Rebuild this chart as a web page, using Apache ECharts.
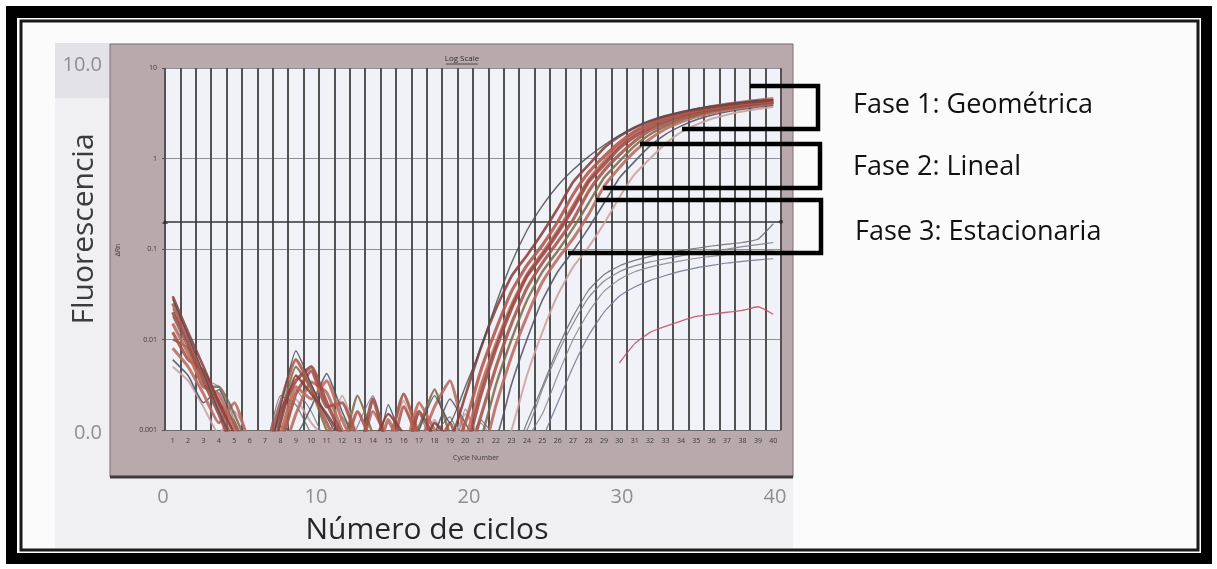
<!DOCTYPE html>
<html><head><meta charset="utf-8">
<script src="https://cdn.jsdelivr.net/npm/echarts@6/dist/echarts.min.js"></script>
<style>html,body{margin:0;padding:0;background:#fff}#c{width:1217px;height:569px}</style>
</head><body><div id="c"></div>
<script>
// ---------- data ----------
const cycles = ['1','2','3','4','5','6','7','8','9','10','11','12','13','14','15','16','17','18','19','20',
  '21','22','23','24','25','26','27','28','29','30','31','32','33','34','35','36','37','38','39','40'];
const outerXRange = [0, 40];
const outerYRange = [0, 10];
const logRange = [0.001, 10];
const threshold = 0.2;
const phaseLabels = ['Fase 1: Geométrica', 'Fase 2: Lineal', 'Fase 3: Estacionaria'];
const yAxisTitle = 'Fluorescencia';
const xAxisTitle = 'Número de ciclos';
const innerTitle = 'Log Scale';
const innerXName = 'Cycle Number';

const b1 = [0.03,0.012,0.005,0.002,0.0009,0.0004,0.0003,0.0012,0.004,0.0025, 0.0015,0.0008,0.0004,0.0007,0.0015,0.0009,0.0005,0.0012,0.0008,0.0024, 0.008,0.022,0.05,0.085,0.15,0.28,0.55,0.85,1.3,1.75, 2.2,2.6,2.95,3.25,3.5,3.7,3.9,4.1,4.25,4.4];
const b2 = [0.025,0.01,0.004,0.0018,0.0007,0.0003,0.0006,0.002,0.006,0.003, 0.0012,0.0006,0.0016,0.0007,0.0005,0.0018,0.0008,0.0004,0.0005,0.0012, 0.0045,0.013,0.034,0.066,0.11,0.2,0.4,0.7,1.05,1.5, 2.0,2.4,2.8,3.1,3.38,3.6,3.8,4.0,4.18,4.32];
const b3 = [0.02,0.009,0.0035,0.0015,0.0006,0.0003,0.0005,0.0016,0.0035,0.005, 0.002,0.0009,0.0005,0.0022,0.0006,0.0005,0.0016,0.0008,0.0004,0.0006, 0.0024,0.008,0.022,0.05,0.085,0.15,0.28,0.55,0.85,1.3, 1.75,2.2,2.6,2.95,3.25,3.5,3.7,3.9,4.1,4.25];
const b4 = [0.015,0.007,0.003,0.0025,0.001,0.0004,0.0004,0.0009,0.003,0.0022, 0.0035,0.0013,0.0006,0.0004,0.0013,0.0006,0.002,0.001,0.0005,0.0008, 0.003,0.009,0.024,0.052,0.09,0.16,0.3,0.58,0.92,1.4, 1.9,2.4,2.8,3.15,3.45,3.75,4.0,4.2,4.4,4.6];
const b5 = [0.012,0.006,0.0045,0.002,0.0012,0.0005,0.0003,0.0007,0.0025,0.0045, 0.0018,0.002,0.0008,0.0005,0.0007,0.0025,0.0009,0.0006,0.0012,0.0004, 0.0014,0.005,0.015,0.037,0.07,0.12,0.21,0.43,0.73,1.1, 1.55,2.04,2.44,2.82,3.13,3.4,3.62,3.82,4.02,4.18];
const b6 = [0.01,0.008,0.003,0.003,0.0015,0.0006,0.0003,0.0014,0.005,0.0028, 0.001,0.0007,0.0024,0.0009,0.0004,0.0006,0.0011,0.0028,0.0009,0.0005, 0.0008,0.0032,0.01,0.027,0.056,0.095,0.17,0.32,0.61,0.93, 1.38,1.85,2.28,2.68,3.0,3.3,3.54,3.74,3.94,4.12];
const b7 = [0.008,0.005,0.0025,0.0012,0.002,0.0007,0.0004,0.0005,0.0015,0.0034, 0.0026,0.001,0.0005,0.0016,0.0008,0.0005,0.0007,0.0018,0.0035,0.0009, 0.0005,0.0019,0.0065,0.018,0.043,0.078,0.13,0.24,0.49,0.79, 1.2,1.65,2.12,2.52,2.88,3.18,3.45,3.66,3.86,4.05];
const b8 = [0.006,0.004,0.002,0.0028,0.0011,0.0005,0.0003,0.0011,0.0009,0.0018, 0.0042,0.0016,0.0007,0.0004,0.0019,0.0007,0.0004,0.0009,0.0022,0.0012, 0.0006,0.0008,0.0032,0.01,0.027,0.056,0.095,0.17,0.32,0.61, 0.93,1.38,1.85,2.28,2.68,3.0,3.28,3.5,3.7,3.88];
const b9 = [0.005,0.0035,0.0018,0.0009,0.0016,0.0008,0.0003,0.0006,0.0022,0.0012, 0.0008,0.0024,0.0009,0.0005,0.0008,0.0021,0.0006,0.0013,0.0007,0.0015, 0.0008,0.0004,0.001,0.004,0.012,0.031,0.063,0.105,0.19,0.37, 0.67,1.0,1.46,1.95,2.36,2.75,3.05,3.3,3.52,3.7];
const d1 = [0.028,0.011,0.0042,0.0016,0.0007,0.0003,0.0004,0.0018,0.0075,0.0032, 0.0014,0.0007,0.0004,0.0009,0.0006,0.0004,0.001,0.0024,0.0012,0.003, 0.008,0.025,0.07,0.16,0.3,0.5,0.75,1.05,1.4,1.8, 2.2,2.6,2.95,3.25,3.55,3.8,4.0,4.2,4.4,4.5];
const g1 = [0.018,0.008,0.004,0.0022,0.0009,0.0004,0.0006,0.0024,0.0019,0.0009, 0.0005,0.0014,0.0007,0.0004,0.0012,0.0005,0.0004,0.0009,0.0014,0.0006, 0.0013,0.0008,0.0005,0.0012,0.003,0.008,0.018,0.035,0.052,0.065, 0.075,0.083,0.09,0.096,0.102,0.108,0.113,0.118,0.128,0.19];
const g2 = [0.022,0.009,0.0038,0.003,0.0013,0.0005,0.0004,0.0008,0.0028,0.0016, 0.0007,0.0004,0.0011,0.0024,0.0007,0.0004,0.0015,0.0006,0.0004,0.0017, 0.0007,0.0004,0.0009,0.001,0.0028,0.007,0.015,0.029,0.044,0.056, 0.065,0.072,0.078,0.084,0.09,0.095,0.1,0.106,0.112,0.118];
const g3 = [null,null,null,null,null,null,null,null,null,null, null,null,null,null,null,null,null,null,null,0.0006, 0.0012,0.0007,0.0005,0.0008,0.0015,0.004,0.01,0.02,0.034,0.046, 0.056,0.063,0.069,0.074,0.079,0.083,0.087,0.09,0.093,0.095];
const g4 = [null,null,null,null,null,null,null,null,null,null, null,null,null,null,null,null,null,null,null,null, 0.0004,0.0009,0.0005,0.0004,0.0008,0.002,0.005,0.011,0.02,0.03, 0.038,0.045,0.051,0.057,0.062,0.066,0.07,0.073,0.076,0.078];
const p1 = [null,null,null,null,null,null,null,null,null,null, null,null,null,null,null,null,null,null,null,null, null,null,null,null,null,null,null,null,null,0.0055, 0.009,0.012,0.014,0.016,0.018,0.019,0.02,0.021,0.023,0.019];

const curves = [
  {d: g1, c: '#6e6a72', w: 1.2}, {d: g2, c: '#7d7c88', w: 1.2}, {d: g3, c: '#8a8690', w: 1.2},
  {d: g4, c: '#6d7590', w: 1.2}, {d: p1, c: '#c0506a', w: 1.3},
  {d: b9, c: '#c9a2a0', w: 2}, {d: b8, c: '#4e5262', w: 1.6}, {d: b7, c: '#b86b62', w: 3},
  {d: b6, c: '#7d6a4a', w: 2.4}, {d: b5, c: '#a35548', w: 3.2}, {d: b4, c: '#c06a5a', w: 3.2},
  {d: b3, c: '#9c4a44', w: 3.4}, {d: b2, c: '#b0584c', w: 3.2}, {d: b1, c: '#8a3f3a', w: 2.6},
  {d: d1, c: '#4d4d55', w: 1.4}
];

// ---------- chart ----------
const chart = echarts.init(document.getElementById('c'), null, {renderer: 'canvas'});
const FONT = '"Open Sans", "Noto Sans", sans-serif';

const series = curves.map((cv, i) => ({
  type: 'line', xAxisIndex: 1, yAxisIndex: 1, data: cv.d,
  showSymbol: false, symbol: 'none', smooth: 0.15, clip: true, silent: true,
  lineStyle: {color: cv.c, width: cv.w, opacity: 0.88}, z: 5 + i,
  markLine: i === 0 ? {
    silent: true, symbol: ['triangle', 'circle'], symbolSize: [6, 4], symbolRotate: 0,
    label: {show: false},
    lineStyle: {color: '#333', width: 1.5, type: 'solid', opacity: 1},
    data: [{yAxis: threshold}]
  } : undefined
}));

const bracket = pts => ({type: 'polyline', z: 100, shape: {points: pts},
  style: {stroke: '#000', lineWidth: 4.5, fill: null, lineJoin: 'miter'}});
const txt = (x, y, text, size, color, extra) => Object.assign({type: 'text', x, y, z: 100,
  style: {text, fill: color, font: size + 'px ' + FONT, textAlign: 'center', textVerticalAlign: 'middle'}}, extra || {});
const phase = (x, y, text) => ({type: 'text', x, y, z: 100,
  style: {text, fill: '#111', font: '27px ' + FONT, textAlign: 'left', textVerticalAlign: 'middle'}});

chart.setOption({
  animation: false,
  backgroundColor: '#ffffff',
  grid: [
    {left: 163, top: 65, width: 612, height: 368, show: false},
    {left: 165, top: 68, width: 616, height: 362, show: true, backgroundColor: '#f1f2f7', borderWidth: 0, z: 1}
  ],
  xAxis: [
    {type: 'value', gridIndex: 0, min: outerXRange[0], max: outerXRange[1], interval: 10,
     axisLine: {show: false}, axisTick: {show: false}, splitLine: {show: false},
     axisLabel: {color: '#8e8e8e', fontSize: 20, margin: 54, fontFamily: FONT}},
    {type: 'category', gridIndex: 1, data: cycles, boundaryGap: true, z: 3,
     axisLine: {show: true, lineStyle: {color: '#6a6a6a', width: 1}}, axisTick: {show: false},
     axisLabel: {color: '#3a3a3a', fontSize: 7, margin: 7, interval: 0, fontFamily: FONT},
     splitLine: {show: true, interval: 0, lineStyle: {color: '#535353', width: 2}}}
  ],
  yAxis: [
    {type: 'value', gridIndex: 0, min: outerYRange[0], max: outerYRange[1], interval: 10,
     axisLine: {show: false}, axisTick: {show: false}, splitLine: {show: false},
     axisLabel: {color: '#8e8e8e', fontSize: 20, margin: 61, fontFamily: FONT, formatter: v => v.toFixed(1)}},
    {type: 'log', gridIndex: 1, logBase: 10, min: logRange[0], max: logRange[1], z: 3,
     axisLine: {show: false}, axisTick: {show: true, length: 3, lineStyle: {color: '#555'}},
     axisLabel: {color: '#3a3a3a', fontSize: 7, margin: 8, fontFamily: FONT,
       formatter: v => String(+v.toPrecision(3))},
     splitLine: {show: true, lineStyle: {color: '#8d929a', width: 1}}}
  ],
  series: series,
  graphic: [
    // outer frame
    {type: 'rect', z: -100, shape: {x: 6, y: 6, width: 1206, height: 558}, style: {fill: '#000'}},
    {type: 'rect', z: -99, shape: {x: 17, y: 18, width: 1184, height: 535}, style: {fill: '#fff'}},
    {type: 'rect', z: -98, shape: {x: 21, y: 21, width: 1177, height: 529}, style: {fill: '#fbfbfc', stroke: '#1a1a1a', lineWidth: 3}},
    {type: 'rect', z: -97, shape: {x: 55, y: 43, width: 738, height: 505}, style: {fill: '#f0f0f3'}},
    {type: 'rect', z: -96, shape: {x: 55, y: 43, width: 55, height: 55}, style: {fill: '#e3e3e7'}},
    // scanned plot panel
    {type: 'rect', z: -90, shape: {x: 110, y: 44, width: 683, height: 433}, style: {fill: '#b9a9ad', stroke: '#7a7175', lineWidth: 1}},
    {type: 'line', z: -89, shape: {x1: 110, y1: 477, x2: 793, y2: 477}, style: {stroke: '#3e3a3c', lineWidth: 3}},
    txt(462, 59, innerTitle, 8, '#2e2e2e', {}),
    {type: 'line', z: 100, shape: {x1: 446, y1: 64, x2: 478, y2: 64}, style: {stroke: '#2e2e2e', lineWidth: 0.8}},
    txt(476, 458, innerXName, 7, '#3a3a3a', {}),
    txt(118, 250, 'ΔRn', 7, '#3a3a3a', {rotation: Math.PI / 2}),
    // axis titles
    txt(84, 229, yAxisTitle, 30, '#3c3c3c', {rotation: Math.PI / 2}),
    txt(427, 530, xAxisTitle, 30, '#262626', {}),
    // brackets
    bracket([[750, 86], [818, 86], [818, 129], [682, 129]]),
    bracket([[640, 144], [820, 144], [820, 188], [603, 188]]),
    bracket([[596, 200], [821, 200], [821, 253], [568, 253]]),
    // phase labels
    phase(853, 105, phaseLabels[0]),
    phase(853, 167, phaseLabels[1]),
    phase(855, 232, phaseLabels[2])
  ]
});
</script></body></html>
